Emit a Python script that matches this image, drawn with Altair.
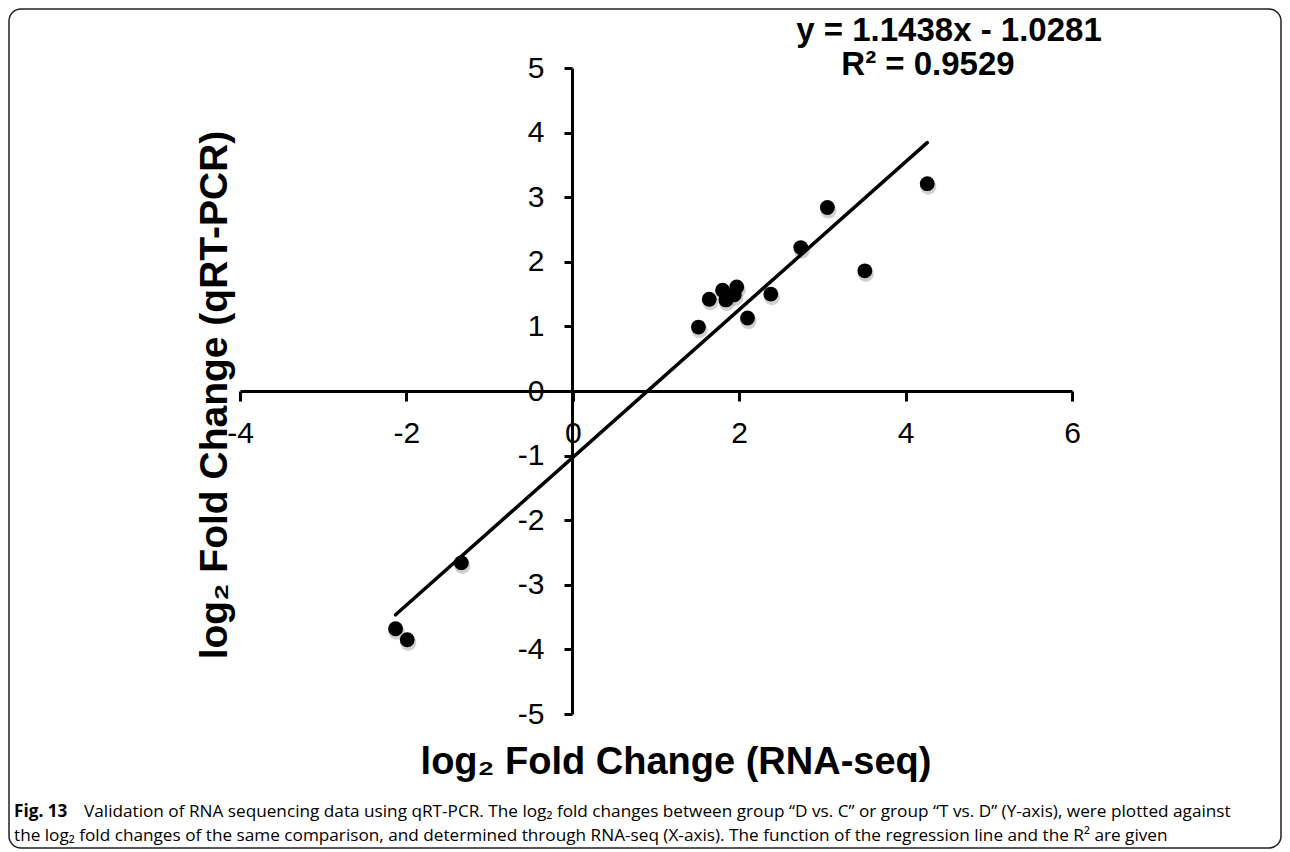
import altair as alt
import pandas as pd

# ---- data ----
rna_seq = [-2.13, -1.99, -1.34, 1.51, 1.64, 1.80, 1.84, 1.94, 1.97, 2.10, 2.38, 2.74, 3.06, 3.51, 4.26]
qrt_pcr = [-3.68, -3.85, -2.66, 0.99, 1.42, 1.56, 1.41, 1.49, 1.61, 1.13, 1.50, 2.22, 2.84, 1.86, 3.21]
x_ticks = [-4, -2, 0, 2, 4, 6]
y_ticks = [-5, -4, -3, -2, -1, 0, 1, 2, 3, 4, 5]
slope = 1.1438
intercept = -1.0281
r2 = 0.9529

eq_line1 = "y = 1.1438x - 1.0281"
eq_line2 = "R² = 0.9529"
x_title = "log₂ Fold Change (RNA-seq)"
y_title = "log₂ Fold Change (qRT-PCR)"
cap_bold = "Fig. 13"
cap_line1 = ("Validation of RNA sequencing data using qRT-PCR. The log₂ fold changes between group "
             "“D vs. C” or group “T vs. D” (Y-axis), were plotted against")
cap_line2 = ("the log₂ fold changes of the same comparison, and determined through RNA-seq (X-axis). "
             "The function of the regression line and the R² are given")

pts = pd.DataFrame({"x": rna_seq, "y": qrt_pcr})
fit_x = [min(rna_seq), max(rna_seq)]
fit = pd.DataFrame({"x": fit_x, "y": [slope * v + intercept for v in fit_x]})

W, H = 832, 646
FONT = "Liberation Sans"
CAP_FONT = "Open Sans"
CAP_SIZE = 17.2

xs = alt.Scale(domain=[-4, 6], nice=False, zero=False)
ys = alt.Scale(domain=[-5, 5], nice=False, zero=False)

x_axis = alt.Axis(values=x_ticks, orient="bottom", offset=-323, grid=False, title=None,
                  labelExpr="'' + datum.value",
                  domainColor="black", domainWidth=3, tickColor="black", tickWidth=3, tickSize=10,
                  labelFont=FONT, labelFontSize=30, labelColor="black", labelPadding=17,
                  labelFlush=False, labelOverlap=False)
y_axis = alt.Axis(values=y_ticks, orient="left", offset=-332, grid=False, title=None,
                  labelExpr="'' + datum.value",
                  domainColor="black", domainWidth=3, tickColor="black", tickWidth=3, tickSize=8,
                  labelFont=FONT, labelFontSize=30, labelColor="black", labelPadding=20,
                  labelFlush=False, labelOverlap=False)

base = alt.Chart(pts)

shadow = base.mark_circle(color="#777777", opacity=0.35, size=260, yOffset=3, xOffset=1).encode(
    x=alt.X("x:Q", scale=xs, axis=x_axis),
    y=alt.Y("y:Q", scale=ys, axis=y_axis),
)
dots = base.mark_circle(color="black", opacity=1, size=220).encode(
    x=alt.X("x:Q", scale=xs),
    y=alt.Y("y:Q", scale=ys),
)
line = alt.Chart(fit).mark_line(color="black", strokeWidth=3.5, strokeCap="round").encode(
    x=alt.X("x:Q", scale=xs),
    y=alt.Y("y:Q", scale=ys),
)


def label(text, x, y, size, weight="bold", align="center", angle=0, font=FONT):
    return alt.Chart(pd.DataFrame({"t": [text]})).mark_text(
        font=font, fontSize=size, fontWeight=weight, align=align, baseline="middle",
        angle=angle, color="black"
    ).encode(text="t:N", x=alt.value(x), y=alt.value(y))


eq1 = label(eq_line1, 709, -37, 33)
eq2 = label(eq_line2, 688, -3, 33)
xt = label(x_title, 436, 695, 38)
yt = label(y_title, -25, 327, 39, angle=270)
cb = label(cap_bold, -226, 744, CAP_SIZE, align="left", font=CAP_FONT)
c1 = label(cap_line1, -156, 744, CAP_SIZE, weight="normal", align="left", font=CAP_FONT)
c2 = label(cap_line2, -226, 768, CAP_SIZE, weight="normal", align="left", font=CAP_FONT)

frame = alt.Chart(pd.DataFrame({"t": [0]})).mark_rect(
    fillOpacity=0, stroke="#222222", strokeWidth=1.5, cornerRadius=12
).encode(x=alt.value(-231), x2=alt.value(1041), y=alt.value(-59), y2=alt.value(780))

chart = alt.layer(frame, shadow, line, dots, eq1, eq2, xt, yt, cb, c1, c2).properties(
    width=W, height=H,
    autosize=alt.AutoSizeParams(type="none"),
    padding={"left": 232, "top": 60, "right": 210, "bottom": 136},
    background="white",
).configure_view(strokeWidth=0)

chart.save("out.html", embed_options={"renderer": "svg", "actions": False})
